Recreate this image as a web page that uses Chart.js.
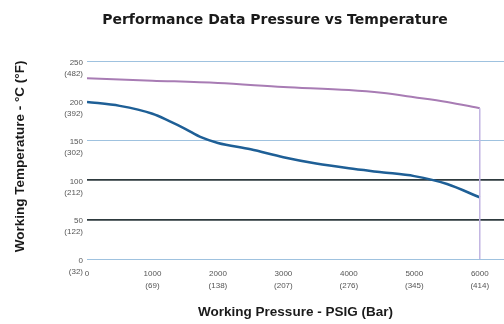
<!DOCTYPE html>
<html>
<head>
<meta charset="utf-8">
<script src="https://cdn.jsdelivr.net/npm/chart.js@4/dist/chart.umd.min.js"></script>
<style>
  html, body { margin: 0; padding: 0; background: #ffffff; }
  #wrap { width: 504px; height: 324px; }
</style>
</head>
<body>
<div id="wrap"><canvas id="c" width="504" height="324"></canvas></div>
<script>
// Data
const upperPressure = [0, 1000, 2000, 3000, 4000, 4500, 5000, 5500, 6000];
const upperTemp     = [229, 226, 223, 218, 214, 210.5, 205, 199, 191];
const limitPressure = [6000, 6000];
const limitTemp     = [191, 0];
const lowerPressure = [0, 500, 1000, 1250, 1500, 1750, 2000, 2500, 3000, 3500, 4000, 4500, 5000, 5500, 6000];
const lowerTemp     = [199, 194, 184, 175, 165, 154, 147, 139, 129, 121, 115, 110, 105, 95, 78];

const xTickValues = [0, 1000, 2000, 3000, 4000, 5000, 6000];
const xTickLabels = [["0"], ["1000", "(69)"], ["2000", "(138)"], ["3000", "(207)"], ["4000", "(276)"], ["5000", "(345)"], ["6000", "(414)"]];
const yTickValues = [0, 50, 100, 150, 200, 250];
const yTickLabels = [["0", "(32)"], ["50", "(122)"], ["100", "(212)"], ["150", "(302)"], ["200", "(392)"], ["250", "(482)"]];
const darkGridValues = [50, 100];
const hiddenGridValues = [200];

const toPoints = (xs, ys) => xs.map((x, i) => ({ x: x, y: ys[i] }));

const titleShift = {
  id: 'titleShift',
  afterLayout(chart) {
    const t = chart.titleBlock;
    if (t) { t.left += 46; t.width -= 46; }
  }
};

new Chart(document.getElementById('c'), {
  type: 'line',
  plugins: [titleShift],
  data: {
    datasets: [
      {
        label: 'Limit',
        data: toPoints(limitPressure, limitTemp),
        borderColor: '#c3b6e2',
        borderWidth: 1.5,
        pointRadius: 0,
        tension: 0
      },
      {
        label: 'Upper',
        data: toPoints(upperPressure, upperTemp),
        borderColor: '#a87cb4',
        borderWidth: 2,
        pointRadius: 0,
        cubicInterpolationMode: 'monotone'
      },
      {
        label: 'Lower',
        data: toPoints(lowerPressure, lowerTemp),
        borderColor: '#1e5f96',
        borderWidth: 2.5,
        pointRadius: 0,
        cubicInterpolationMode: 'monotone'
      }
    ]
  },
  options: {
    responsive: false,
    animation: false,
    layout: { padding: { left: 0, right: 0, top: 0, bottom: 0 } },
    plugins: {
      legend: { display: false },
      tooltip: { enabled: false },
      title: {
        display: true,
        text: 'Performance Data Pressure vs Temperature',
        color: '#1a1a1a',
        font: { family: 'DejaVu Sans', size: 14, weight: 'bold' },
        padding: { top: 12, bottom: 25 }
      }
    },
    scales: {
      x: {
        type: 'linear',
        min: 0,
        max: 6370,
        afterBuildTicks: s => { s.ticks = xTickValues.map(v => ({ value: v })); },
        afterFit: s => { s.height = 65; },
        grid: { display: false, drawTicks: false },
        border: { display: false },
        ticks: {
          padding: 9,
          color: '#555555',
          font: { family: 'Liberation Sans', size: 8, lineHeight: 1.45 },
          maxRotation: 0,
          autoSkip: false,
          callback: (v) => { const i = xTickValues.indexOf(v); return i >= 0 ? xTickLabels[i] : ''; }
        },
        title: {
          display: true,
          text: 'Working Pressure - PSIG (Bar)',
          color: '#1a1a1a',
          font: { family: 'Liberation Sans', size: 13.5, weight: 'bold' },
          padding: { top: 0, bottom: 4 }
        }
      },
      y: {
        type: 'linear',
        min: 0,
        max: 260,
        afterBuildTicks: s => { s.ticks = yTickValues.map(v => ({ value: v })); },
        afterFit: s => { s.width = 87; },
        grid: {
          drawTicks: false,
          color: ctx => {
            const v = ctx.tick && ctx.tick.value;
            if (hiddenGridValues.includes(v)) return 'rgba(0,0,0,0)';
            if (darkGridValues.includes(v)) return '#2e3a3e';
            return '#9fc2df';
          },
          lineWidth: ctx => {
            const v = ctx.tick && ctx.tick.value;
            return darkGridValues.includes(v) ? 1.8 : 1;
          }
        },
        border: { display: false },
        ticks: {
          padding: 4,
          labelOffset: 7,
          color: '#555555',
          font: { family: 'Liberation Sans', size: 8, lineHeight: 1.4 },
          autoSkip: false,
          callback: (v) => { const i = yTickValues.indexOf(v); return i >= 0 ? yTickLabels[i] : ''; }
        },
        title: {
          display: true,
          text: 'Working Temperature - °C (°F)',
          color: '#1a1a1a',
          font: { family: 'Liberation Sans', size: 13.5, weight: 'bold' },
          padding: { top: 12, bottom: 0 }
        }
      }
    }
  }
});
</script>
</body>
</html>
